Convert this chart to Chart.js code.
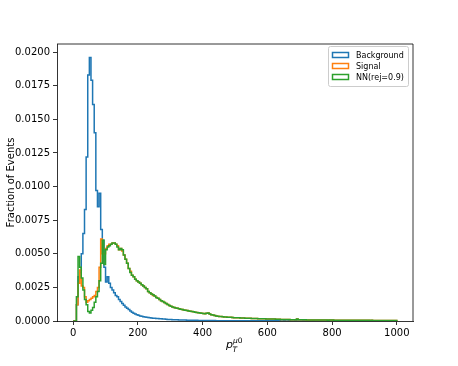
<!DOCTYPE html>
<html>
<head>
<meta charset="utf-8">
<script src="https://cdn.jsdelivr.net/npm/chart.js@4"></script>
<style>
  html, body { margin: 0; padding: 0; background: #fff; }
  #wrap { width: 458px; height: 366px; }
</style>
</head>
<body>
<div id="wrap"><canvas id="chart-pt" width="458" height="366"></canvas></div>
<script>
// pT of leading muon, 200 bins of width 5 from 0 to 1000
const binEdges = Array.from({ length: 201 }, (_, i) => i * 5);
const xTicks = [0, 200, 400, 600, 800, 1000];
const yTicks = [0, 0.0025, 0.005, 0.0075, 0.01, 0.0125, 0.015, 0.0175, 0.02];
const seriesLabels = ["Background", "Signal", "NN(rej=0.9)"];

const background = [
  0, 0, 0.0012, 0.0033, 0.0036, 0.0050, 0.0065, 0.0083, 0.0122, 0.0183,
  0.0196, 0.0179, 0.0161, 0.0140, 0.0097, 0.0085, 0.0095, 0.0068, 0.0060, 0.0040,
  0.0029, 0.0033, 0.0028, 0.0025, 0.0023, 0.0021, 0.0019, 0.0018, 0.0016, 0.00145,
  0.0013, 0.00118, 0.00105, 0.00095, 0.00085, 0.00075, 0.00065, 0.00058, 0.00052, 0.00047,
  0.00042, 0.00038, 0.00035, 0.00032, 0.0003, 0.00028, 0.00026, 0.00024, 0.00022, 0.00021,
  0.0002, 0.00019, 0.00018, 0.00017, 0.00016, 0.00015, 0.00014, 0.00013, 0.00012, 0.00012,
  0.00011, 0.0001, 0.0001, 0.00009, 0.00009, 0.00008, 0.00008, 0.00007, 0.00007, 0.00007,
  0.00006, 0.00006, 0.00006, 0.00005, 0.00005, 0.00005, 0.00005, 0.00004, 0.00004, 0.00004,
  0.00004, 0.00004, 0.00003, 0.00003, 0.00003, 0.00003, 0.00003, 0.00003, 0.00002, 0.00002,
  0.00002, 0.00002, 0.00002, 0.00002, 0.00002, 0.00002, 0.00002, 0.00001, 0.00001, 0.00001,
  0.00001, 0.00001, 0.00001, 0.00001, 0.00001, 0.00001, 0.00001, 0.00001, 0.00001, 0.00001,
  0.00001, 0.00001, 0.00001, 0.00001, 0.00001, 0.00001, 0.00001, 0.00001, 0, 0.00001,
  0.00001, 0, 0.00001, 0.00001, 0, 0.00001, 0, 0.00001, 0, 0,
  0.00001, 0, 0, 0.00001, 0, 0, 0, 0.00001, 0, 0,
  0, 0, 0.00001, 0, 0, 0, 0, 0, 0.00001, 0,
  0, 0, 0, 0, 0, 0, 0, 0, 0, 0,
  0, 0, 0, 0, 0, 0, 0, 0, 0, 0,
  0, 0, 0, 0, 0, 0, 0, 0, 0, 0,
  0, 0, 0, 0, 0, 0, 0, 0, 0, 0,
  0, 0, 0, 0, 0, 0, 0, 0, 0, 0
];

const signal = [
  0, 0, 0.0012, 0.0028, 0.0038, 0.0026, 0.0025, 0.0018, 0.0014, 0.0015,
  0.0016, 0.0017, 0.0018, 0.0019, 0.0022, 0.0025, 0.0040, 0.0061, 0.0050, 0.0050,
  0.0054, 0.0056, 0.0057, 0.0057, 0.0058, 0.0058, 0.0057, 0.0056, 0.0053, 0.0054,
  0.0052, 0.0049, 0.0046, 0.0043, 0.0039, 0.0037, 0.0034, 0.0033, 0.0031, 0.0030,
  0.0029, 0.0028, 0.0027, 0.0026, 0.0025, 0.0024, 0.0022, 0.0021, 0.0020, 0.0019,
  0.00185, 0.00175, 0.0017, 0.0016, 0.0015, 0.00145, 0.00138, 0.0013, 0.00122, 0.00115,
  0.0011, 0.00105, 0.001, 0.00097, 0.00094, 0.00091, 0.00088, 0.00085, 0.00082, 0.0008,
  0.00078, 0.00075, 0.00073, 0.0007, 0.00068, 0.00066, 0.00064, 0.00062, 0.0006, 0.00058,
  0.00056, 0.00054, 0.00058, 0.0006, 0.00052, 0.00047, 0.00044, 0.00041, 0.00038, 0.00036,
  0.00034, 0.00033, 0.00031, 0.0003, 0.00029, 0.00028, 0.00027, 0.00027, 0.00026, 0.00025,
  0.00025, 0.00024, 0.00024, 0.00023, 0.00022, 0.00022, 0.00021, 0.00021, 0.0002, 0.0002,
  0.00019, 0.00019, 0.00018, 0.00018, 0.00017, 0.00017, 0.00017, 0.00016, 0.00016, 0.00015,
  0.00015, 0.00015, 0.00014, 0.00014, 0.00014, 0.00013, 0.00013, 0.00013, 0.00012, 0.00012,
  0.00012, 0.00011, 0.00011, 0.00011, 0.0001, 0.0001, 0.0001, 0.0001, 0.00014, 0.0001,
  0.00009, 0.00009, 0.00009, 0.00009, 0.00008, 0.00008, 0.00008, 0.00008, 0.00008, 0.00007,
  0.00007, 0.00007, 0.00007, 0.00008, 0.00007, 0.00007, 0.00007, 0.00006, 0.00007, 0.00007,
  0.00007, 0.00006, 0.00006, 0.00006, 0.00006, 0.00006, 0.00006, 0.00006, 0.00005, 0.00006,
  0.00006, 0.00005, 0.00005, 0.00005, 0.00005, 0.00005, 0.00005, 0.00005, 0.00005, 0.00005,
  0.00005, 0.00005, 0.00005, 0.00004, 0.00005, 0.00004, 0.00004, 0.00004, 0.00004, 0.00004,
  0.00004, 0.00004, 0.00004, 0.00004, 0.00004, 0.00004, 0.00004, 0.00004, 0.00004, 0.00004
];

const nnRej09 = [
  0, 0, 0.0018, 0.0048, 0.0040, 0.0032, 0.0023, 0.0016, 0.0012, 0.0007,
  0.0006, 0.0008, 0.0010, 0.0014, 0.0018, 0.0022, 0.0030, 0.0043, 0.0060, 0.0042,
  0.0053, 0.0055, 0.0056, 0.0057, 0.0058, 0.0058, 0.0057, 0.0055, 0.0053, 0.0054,
  0.0053, 0.0049, 0.0046, 0.0043, 0.0039, 0.0036, 0.0034, 0.0033, 0.0031, 0.0030,
  0.0029, 0.0028, 0.0027, 0.0026, 0.0025, 0.0024, 0.0022, 0.0021, 0.0020, 0.00195,
  0.00185, 0.00175, 0.0017, 0.0016, 0.0015, 0.00145, 0.00138, 0.0013, 0.00122, 0.00115,
  0.0011, 0.00105, 0.001, 0.00097, 0.00094, 0.00091, 0.00088, 0.00085, 0.00082, 0.0008,
  0.00078, 0.00075, 0.00073, 0.0007, 0.00068, 0.00066, 0.00064, 0.00062, 0.0006, 0.00058,
  0.00056, 0.00054, 0.00058, 0.0006, 0.00052, 0.00047, 0.00044, 0.00041, 0.00038, 0.00036,
  0.00034, 0.00033, 0.00031, 0.0003, 0.00029, 0.00028, 0.00027, 0.00027, 0.00026, 0.00025,
  0.00025, 0.00024, 0.00024, 0.00023, 0.00022, 0.00022, 0.00021, 0.00021, 0.0002, 0.0002,
  0.00019, 0.00019, 0.00018, 0.00018, 0.00017, 0.00017, 0.00017, 0.00016, 0.00016, 0.00015,
  0.00015, 0.00015, 0.00014, 0.00014, 0.00014, 0.00013, 0.00013, 0.00013, 0.00012, 0.00012,
  0.00012, 0.00011, 0.00011, 0.00011, 0.0001, 0.0001, 0.0001, 0.0001, 0.00014, 0.0001,
  0.00009, 0.00009, 0.00009, 0.00009, 0.00008, 0.00008, 0.00008, 0.00008, 0.00008, 0.00007,
  0.00007, 0.00007, 0.00007, 0.00008, 0.00007, 0.00007, 0.00007, 0.00006, 0.00007, 0.00007,
  0.00007, 0.00006, 0.00006, 0.00006, 0.00006, 0.00006, 0.00006, 0.00006, 0.00005, 0.00006,
  0.00006, 0.00005, 0.00005, 0.00005, 0.00005, 0.00005, 0.00005, 0.00005, 0.00005, 0.00005,
  0.00005, 0.00005, 0.00005, 0.00004, 0.00005, 0.00004, 0.00004, 0.00004, 0.00004, 0.00004,
  0.00004, 0.00004, 0.00004, 0.00004, 0.00004, 0.00004, 0.00004, 0.00004, 0.00004, 0.00004
];

const colors = ["#1f77b4", "#ff7f0e", "#2ca02c"];
const font = "'DejaVu Sans', sans-serif";

// outline of a step histogram: up at the first edge, across each bin, down at the last edge
function stepPoints(vals) {
  const pts = [{ x: binEdges[0], y: 0 }];
  vals.forEach((v, i) => pts.push({ x: binEdges[i], y: v }));
  pts.push({ x: binEdges[vals.length], y: 0 });
  return pts;
}

const frameAndText = {
  id: "frameAndText",
  afterDraw(chart) {
    const { ctx, chartArea } = chart;
    const { left, right, top, bottom } = chartArea;
    ctx.save();
    // top/right spines
    ctx.strokeStyle = "#000";
    ctx.lineWidth = 0.8;
    ctx.beginPath();
    ctx.moveTo(left, top);
    ctx.lineTo(right, top);
    ctx.lineTo(right, bottom);
    ctx.stroke();

    // legend
    const bx = 328.5, by = 46.5, bw = 80, bh = 40;
    ctx.fillStyle = "rgba(255,255,255,0.8)";
    ctx.strokeStyle = "#cccccc";
    ctx.lineWidth = 1;
    ctx.beginPath();
    ctx.roundRect(bx, by, bw, bh, 2);
    ctx.fill();
    ctx.stroke();
    ctx.font = "8px " + font;
    ctx.textBaseline = "middle";
    ctx.textAlign = "left";
    seriesLabels.forEach((label, i) => {
      const cy = 55 + i * 11;
      ctx.strokeStyle = colors[i];
      ctx.lineWidth = 1.5;
      ctx.strokeRect(332.5, cy - 2.5, 16, 5);
      ctx.fillStyle = "#000";
      ctx.fillText(label, 356, cy + 0.5);
    });

    // y title
    ctx.save();
    ctx.translate(11, (top + bottom) / 2);
    ctx.rotate(-Math.PI / 2);
    ctx.textAlign = "center";
    ctx.textBaseline = "middle";
    ctx.font = "10px " + font;
    ctx.fillStyle = "#000";
    ctx.fillText("Fraction of Events", 0, 0);
    ctx.restore();

    // x title: p_T^{mu0}
    const cx = (left + right) / 2;
    const x0 = cx - 9;
    ctx.fillStyle = "#000";
    ctx.textAlign = "left";
    ctx.textBaseline = "alphabetic";
    ctx.font = "italic 11px " + font;
    ctx.fillText("p", x0, 348);
    const pw = ctx.measureText("p").width;
    ctx.font = "italic 7.5px " + font;
    ctx.fillText("T", x0 + pw - 0.5, 352);
    ctx.fillText("\u03bc", x0 + pw, 343);
    const mw = ctx.measureText("\u03bc").width;
    ctx.font = "7.5px " + font;
    ctx.fillText("0", x0 + pw + mw, 343);
    ctx.restore();
  },
};

const datasets = [background, signal, nnRej09].map((vals, i) => ({
  label: seriesLabels[i],
  data: stepPoints(vals),
  borderColor: colors[i],
  borderWidth: 1.5,
  pointRadius: 0,
  fill: false,
  stepped: "before",
  tension: 0,
  order: 2 - i,
}));

new Chart(document.getElementById("chart-pt"), {
  type: "line",
  data: { datasets },
  options: {
    responsive: false,
    animation: false,
    layout: { padding: { left: 0, top: 44, right: 45, bottom: 0 } },
    plugins: { legend: { display: false }, tooltip: { enabled: false } },
    scales: {
      x: {
        type: "linear",
        min: -50,
        max: 1050,
        afterBuildTicks: (axis) => { axis.ticks = xTicks.map((v) => ({ value: v })); },
        afterFit: (scale) => { scale.height = 45; },
        ticks: {
          font: { family: font, size: 10 },
          color: "#000",
          padding: 2,
          maxRotation: 0,
          callback: (v) => String(v),
        },
        grid: { drawOnChartArea: false, tickLength: 4, tickColor: "#000", tickWidth: 0.8 },
        border: { color: "#000", width: 0.8 },
      },
      y: {
        min: 0,
        max: 0.0206,
        afterBuildTicks: (axis) => { axis.ticks = yTicks.map((v) => ({ value: v })); },
        afterFit: (scale) => { scale.width = 57; },
        ticks: {
          font: { family: font, size: 10 },
          color: "#000",
          padding: 3,
          callback: (v) => Number(v).toFixed(4),
        },
        grid: { drawOnChartArea: false, tickLength: 4, tickColor: "#000", tickWidth: 0.8 },
        border: { color: "#000", width: 0.8 },
      },
    },
  },
  plugins: [frameAndText],
});
</script>
</body>
</html>
